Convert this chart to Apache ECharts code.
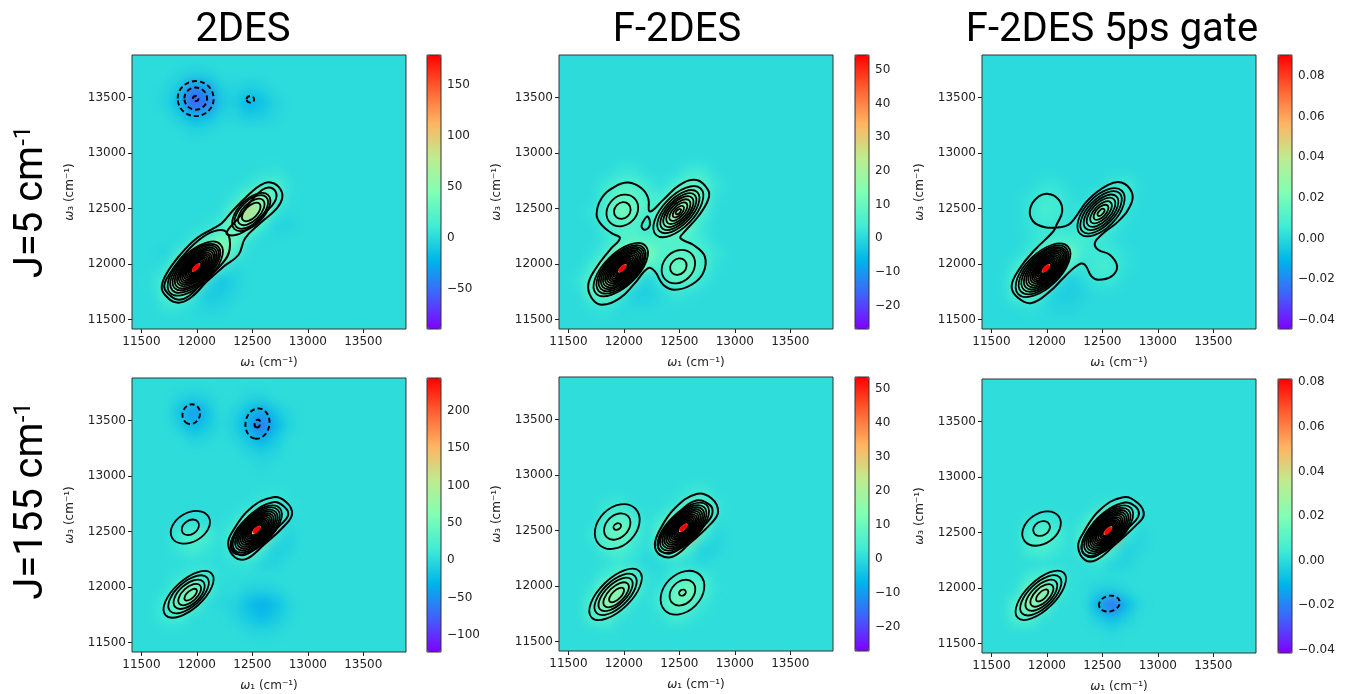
<!DOCTYPE html>
<html><head><meta charset="utf-8">
<script src="https://cdn.jsdelivr.net/npm/echarts@6/dist/echarts.min.js"></script>
<style>html,body{margin:0;padding:0;background:#fff}#c{width:1353px;height:694px}</style>
</head><body><div id="c"></div>
<script>
// ---------- shared values ----------
const axisRange = [11415, 13885];
const freqTicks = [11500, 12000, 12500, 13000, 13500];
const cellFreqX = [11477,11600,11724,11847,11971,12094,12218,12341,12465,12588,12712,12835,12959,13082,13206,13329,13453,13576,13700,13823];
const cellFreqY = [13823,13700,13576,13453,13329,13206,13082,12959,12835,12712,12588,12465,12341,12218,12094,11971,11847,11724,11600,11477];
const rainbow = ['#8000ff','#4061fa','#00b5eb','#40ecd4','#80ffb4','#bfec8e','#ffb462','#ff6131','#ff0000'];
const columnTitles = ['2DES','F-2DES','F-2DES 5ps gate'];
const rowTitles = ['J=5 cm','J=155 cm'];

// Heat cells: row index (top first) -> col, value, col, value ...
const heatR1C1 = {
1:[3,-1,4,-6,5,-5],
2:[2,-1,3,-10,4,-45,5,-30,6,-6,7,-2,8,-7,9,-5],
3:[2,-3,3,-20,4,-60,5,-50,6,-9,7,-6,8,-22,9,-14,10,-3],
4:[3,-6,4,-20,5,-15,6,-3,7,-2,8,-8,9,-6,10,-1],
5:[4,-3,5,-2],
8:[9,3,10,4],
9:[8,5,9,12,10,20,11,4],
10:[7,6,8,30,9,62,10,20,11,2],
11:[6,3,7,28,8,90,9,50,10,6,11,0],
12:[5,4,6,12,7,42,8,42,9,8,10,-4,11,-3],
13:[3,0,4,8,5,20,6,38,7,32,8,6,9,0],
14:[2,-3,3,10,4,42,5,92,6,62,7,14,8,2],
15:[2,5,3,50,4,175,5,95,6,12,7,-2],
16:[1,3,2,18,3,80,4,90,5,4,6,-14,7,-4],
17:[1,1,2,20,3,30,4,8,5,-10,6,-8,7,-2],
18:[2,5,3,5,4,0,5,-3,6,-2]};
const heatR1C2 = {
8:[4,2,5,2,9,3,10,3],
9:[3,3,4,6,5,6,6,3,8,4,9,8,10,7,11,2],
10:[3,5,4,10,5,9,6,5,7,4,8,12,9,17,10,8,11,1],
11:[2,2,3,6,4,12,5,10,6,4,7,9,8,26,9,15,10,4],
12:[3,4,4,7,5,6,6,2,7,10,8,14,9,8,10,2],
13:[3,2,4,5,5,7,6,6,7,6,8,6,9,5,10,3],
14:[2,1,3,5,4,14,5,20,6,14,7,6,8,7,9,8,10,5,11,2],
15:[2,4,3,16,4,50,5,24,6,6,7,5,8,11,9,10,10,5,11,1],
16:[1,2,2,8,3,26,4,24,5,3,6,-2,7,3,8,8,9,7,10,2],
17:[2,8,3,10,4,3,5,-2,6,-2,7,0,8,2,9,1],
18:[2,1,3,2,4,0,5,0,6,0]};
const heatR1C3 = {
9:[4,3,5,3,9,4,10,6,11,1],
10:[3,3,4,7,5,6,6,2,8,6,9,14,10,6],
11:[3,4,4,8,5,6,6,2,7,5,8,30,9,13,10,3],
12:[3,3,4,5,5,4,6,3,7,8,8,14,9,5,10,1],
13:[3,2,4,5,5,8,6,7,7,6,8,5,9,2],
14:[3,5,4,14,5,28,6,18,7,5,8,5,9,5,10,2],
15:[2,5,3,20,4,80,5,35,6,6,7,3,8,8,9,7,10,2],
16:[2,10,3,38,4,35,5,3,6,-4,7,1,8,4,9,4],
17:[2,9,3,14,4,3,5,-3,6,-3,7,-1],
18:[3,2,5,-1,6,-1]};
const heatR2C1 = {
1:[3,-5,4,-10,5,-5,8,-5,9,-6],
2:[3,-18,4,-48,5,-20,7,-5,8,-20,9,-40,10,-15,11,-2],
3:[3,-10,4,-28,5,-14,6,0,7,-8,8,-35,9,-70,10,-28,11,-5],
4:[4,-6,5,-3,7,-3,8,-15,9,-32,10,-12],
5:[8,-4,9,-8,10,-4],
6:[9,-2],
8:[9,4,10,5],
9:[8,5,9,15,10,22,11,5],
10:[3,3,4,5,5,3,7,6,8,40,9,100,10,40,11,0],
11:[3,15,4,35,5,20,6,2,7,30,8,150,9,130,10,8,11,-6],
12:[3,10,4,18,5,8,7,22,8,50,9,15,10,-10,11,-5],
13:[3,2,4,3,5,3,7,5,8,8,9,-5,10,-6],
14:[3,8,4,15,5,15,6,3],
15:[2,3,3,35,4,75,5,20,6,0,8,-6,9,-8,10,-5],
16:[2,18,3,60,4,35,5,0,6,-2,7,-6,8,-22,9,-35,10,-22,11,-4],
17:[2,14,3,15,4,0,7,-4,8,-15,9,-24,10,-14,11,-2],
18:[8,-3,9,-5,10,-3]};
const heatR2C2 = {
8:[9,2,10,3],
9:[3,2,4,3,8,2,9,8,10,9,11,2],
10:[3,5,4,9,5,5,7,3,8,16,9,36,10,12,11,1],
11:[2,2,3,8,4,11,5,5,7,9,8,40,9,30,10,4,11,-1],
12:[3,5,4,6,5,2,6,0,7,8,8,14,9,4,10,-2,11,-1],
13:[3,1,4,2,5,1,6,-1,7,0,8,1,9,0,10,-1],
14:[3,3,4,7,5,6,6,1,7,0,8,3,9,4,10,3],
15:[2,2,3,12,4,18,5,7,7,2,8,9,9,12,10,6,11,1],
16:[2,6,3,19,4,10,5,1,7,4,8,10,9,9,10,2],
17:[2,6,3,7,4,1,7,1,8,4,9,2],
18:[3,1]};
const heatR2C3 = {
9:[8,2,9,7,10,10,11,1],
10:[3,3,4,5,5,3,7,3,8,20,9,48,10,16],
11:[3,8,4,11,5,6,7,10,8,62,9,55,10,3,11,-2],
12:[3,5,4,7,5,3,7,8,8,20,9,5,10,-3,11,-1],
13:[4,1,8,2,9,-2,10,-2],
14:[3,4,4,8,5,8,6,1],
15:[2,1,3,18,4,30,5,8,8,-3,9,-4,10,-1],
16:[2,9,3,28,4,14,8,-12,9,-26,10,-10,11,-1],
17:[2,7,3,8,8,-3,9,-8,10,-3],
18:[9,-1]};

// Contour ellipses: centre x, centre y, semi-axis along, semi-axis across, angle
const ringsR1C1 = [[11985,11960,315,148,44],[11985,11962,285,135,44],[11988,11965,262,123,44],[11990,11966,240,112,44],[11992,11968,218,101,44],[11993,11969,198,91,44],[11993,11969,178,81,44],[11993,11970,160,72,44],[11993,11970,142,64,44],[11993,11970,125,56,44],[11993,11970,108,48,44],[11993,11970,92,41,45],[11993,11970,76,34,45],[11993,11970,60,27,45],
[12490,12470,216,112,45],[12490,12470,190,98,45],[12490,12470,150,78,45],[12490,12470,105,55,45]];
const ringsR1C2 = [[11972,11950,310,148,44],[11975,11952,280,136,44],[11978,11955,258,125,44],[11980,11957,236,114,44],[11982,11958,215,103,44],[11984,11960,195,92,44],[11985,11961,175,82,44],[11986,11962,157,73,44],[11986,11962,140,64,44],[11986,11962,123,56,44],[11986,11962,106,48,44],[11986,11962,90,40,45],[11986,11962,75,33,45],[11986,11962,60,27,45],
[11986,12483,155,130,45],[11986,12483,80,70,45],[12491,11977,165,135,45],[12491,11977,80,68,45],
[12491,12473,290,140,46],[12491,12473,245,118,46],[12491,12473,210,100,46],[12491,12473,175,85,46],[12491,12473,140,68,46],[12491,12473,105,50,46],[12491,12473,65,32,46],[12491,12473,30,15,46]];
const ringsR1C3 = [[11965,11945,310,152,44],[11970,11948,282,138,44],[11975,11952,258,126,44],[11980,11955,236,114,44],[11984,11958,215,103,44],[11987,11960,195,92,44],[11990,11961,175,82,44],[11991,11962,157,73,44],[11992,11962,140,64,44],[11992,11962,123,56,44],[11992,11962,106,48,44],[11992,11962,90,40,45],[11992,11962,75,33,45],[11992,11962,60,27,45],
[12488,12467,270,140,46],[12488,12467,240,118,46],[12488,12467,200,100,46],[12488,12467,165,82,46],[12488,12467,125,62,46],[12488,12467,85,43,46],[12488,12467,40,20,46]];
const ringsR2C1 = [[11941,12539,190,130,30],[11941,12539,85,62,35],
[11925,11935,280,130,42],[11925,11935,225,110,42],[11930,11935,170,90,42],[11935,11933,125,65,42],[11944,11932,70,33,42],
[12535,12515,290,135,43],[12535,12515,265,125,43],[12535,12515,240,113,43],[12535,12515,218,102,43],[12535,12515,197,92,43],[12535,12515,177,82,43],[12535,12515,158,73,43],[12535,12515,140,65,43],[12535,12515,123,57,43],[12535,12515,106,49,43],[12535,12515,90,41,43],[12535,12515,75,34,43],[12535,12515,60,28,43]];
const ringsR2C2 = [[11940,12537,230,170,45],[11940,12537,135,100,45],[11940,12537,36,27,30],
[12528,11941,225,165,45],[12528,11941,130,100,45],[12528,11941,32,26,30],
[11925,11925,300,140,44],[11925,11925,240,115,44],[11925,11925,195,92,44],[11930,11922,145,70,44],[11934,11920,85,40,44],
[12535,12525,295,135,44],[12535,12525,265,124,44],[12535,12525,240,113,44],[12535,12525,218,102,44],[12535,12525,197,92,44],[12535,12525,177,82,44],[12535,12525,158,73,44],[12535,12525,140,65,44],[12535,12525,123,57,44],[12535,12525,106,49,44],[12535,12525,90,41,44],[12535,12525,75,34,44],[12535,12525,60,28,44]];
const ringsR2C3 = [[11952,12537,190,135,35],[11952,12537,80,62,30],
[11945,11935,290,130,44],[11945,11935,235,110,44],[11950,11935,180,88,44],[11955,11934,130,65,44],[11958,11934,70,33,44],
[12545,12518,295,135,44],[12545,12518,265,124,44],[12545,12518,240,113,44],[12545,12518,218,102,44],[12545,12518,197,92,44],[12545,12518,177,82,44],[12545,12518,158,73,44],[12545,12518,140,65,44],[12545,12518,123,57,44],[12547,12518,106,49,44],[12550,12519,90,41,44],[12550,12519,75,34,44],[12550,12519,60,28,44]];

// Negative (dashed) contours
const dashR1C1 = [[11989,13492,162,158,0],[11989,13492,102,100,0],[11989,13492,25,23,0],[12482,13486,34,30,0]];
const dashR2C1 = [[11949,13559,90,78,70],[12546,13474,137,108,80],[12546,13474,36,25,75]];
const dashR2C3 = [[12563,11860,95,70,15]];

// Innermost filled peak
const coreR1C1 = [[11992,11970,42,19,46]];
const coreR1C2 = [[11986,11962,42,20,46]];
const coreR1C3 = [[11992,11962,42,20,46]];
const coreR2C1 = [[12539,12518,42,20,44]];
const coreR2C2 = [[12536,12527,42,20,44]];
const coreR2C3 = [[12552,12519,42,20,44]];

// Free-form contours: x, y, x, y ... (closed)
const pathsR1C1 = [
[11683,11797,11728,11917,11848,12082,11998,12233,12149,12323,12224,12368,12329,12488,12480,12638,12570,12710,12650,12738,12735,12699,12771,12608,12720,12503,12570,12368,12435,12233,12374,12082,12239,11977,12089,11842,11938,11692,11818,11653,11713,11722],
[11705,11800,11746,11899,11866,12064,12010,12210,12150,12295,12265,12290,12295,12130,12220,11995,12072,11858,11925,11710,11825,11680,11735,11740],
[12267,12279,12387,12430,12490,12570,12590,12670,12660,12690,12715,12640,12700,12560,12620,12470,12477,12330,12357,12264]];
const pathsR1C2 = [
[11679,11814,11739,11949,11874,12129,11964,12234,11889,12279,11799,12354,11754,12444,11799,12594,11919,12699,12039,12735,12159,12684,12219,12594,12234,12474,12354,12579,12504,12714,12654,12759,12759,12669,12759,12579,12669,12429,12549,12294,12510,12234,12624,12174,12729,12069,12714,11919,12609,11814,12459,11769,12354,11814,12279,11934,12219,11964,12099,11829,11964,11694,11799,11634,11709,11694],
[12213,12429,12234,12354,12189,12309,12159,12339,12174,12384]];
const pathsR1C3 = [
[11682,11799,11757,11964,11892,12129,12057,12294,12087,12354,12138,12474,12108,12579,12012,12633,11907,12594,11847,12489,11877,12384,11982,12333,12117,12333,12192,12354,12252,12414,12372,12579,12552,12714,12672,12735,12762,12654,12762,12549,12657,12399,12492,12264,12432,12189,12462,12129,12567,12084,12633,11979,12582,11889,12462,11859,12402,11889,12342,11994,12282,11994,12162,11889,12027,11754,11862,11649,11742,11694]];
const pathsR2C1 = [
[12282,12390,12327,12510,12477,12705,12687,12810,12807,12765,12858,12660,12792,12555,12597,12375,12447,12255,12342,12270],
[12306,12390,12357,12495,12492,12660,12687,12765,12792,12720,12822,12645,12747,12555,12582,12390,12432,12291,12351,12309]];
const pathsR2C2 = [
[12279,12372,12324,12507,12459,12702,12654,12831,12789,12792,12849,12672,12789,12567,12594,12387,12444,12267,12324,12282],
[12309,12372,12354,12492,12504,12672,12654,12771,12774,12732,12798,12657,12744,12567,12579,12402,12429,12297,12339,12312]];
const pathsR2C3 = [
[12282,12375,12327,12495,12477,12705,12687,12819,12822,12765,12873,12660,12807,12570,12612,12390,12447,12255,12342,12255],
[12312,12375,12357,12495,12507,12675,12702,12771,12798,12735,12828,12660,12762,12570,12582,12399,12432,12285,12342,12300]];

// Colour scale ranges and ticks
const scaleR1C1 = [-89,179],  ticksR1C1 = [-50,0,50,100,150];
const scaleR1C2 = [-27,54.5], ticksR1C2 = [-20,-10,0,10,20,30,40,50];
const scaleR1C3 = [-0.0444,0.0903], ticksR1C3 = [-0.04,-0.02,0,0.02,0.04,0.06,0.08];
const scaleR2C1 = [-122.5,243.7], ticksR2C1 = [-100,-50,0,50,100,150,200];
const scaleR2C2 = [-27,53.5], ticksR2C2 = [-20,-10,0,10,20,30,40,50];
const scaleR2C3 = [-0.0414,0.0815], ticksR2C3 = [-0.04,-0.02,0,0.02,0.04,0.06,0.08];

// ---------- panel table ----------
const panels = [
 {x:132,y:55, bar:427, heat:heatR1C1,bg:1,  unit:1,    scale:scaleR1C1,ticks:ticksR1C1,rings:ringsR1C1,dash:dashR1C1,core:coreR1C1,paths:pathsR1C1,dec:0},
 {x:559,y:55, bar:855, heat:heatR1C2,bg:0.5,unit:1,    scale:scaleR1C2,ticks:ticksR1C2,rings:ringsR1C2,dash:[],core:coreR1C2,paths:pathsR1C2,dec:0},
 {x:982,y:55, bar:1278,heat:heatR1C3,bg:0.5,unit:0.001,scale:scaleR1C3,ticks:ticksR1C3,rings:ringsR1C3,dash:[],core:coreR1C3,paths:pathsR1C3,dec:2},
 {x:132,y:378,bar:427, heat:heatR2C1,bg:2,  unit:1,    scale:scaleR2C1,ticks:ticksR2C1,rings:ringsR2C1,dash:dashR2C1,core:coreR2C1,paths:pathsR2C1,dec:0},
 {x:559,y:377,bar:855, heat:heatR2C2,bg:0.5,unit:1,    scale:scaleR2C2,ticks:ticksR2C2,rings:ringsR2C2,dash:[],core:coreR2C2,paths:pathsR2C2,dec:0},
 {x:982,y:379,bar:1278,heat:heatR2C3,bg:0.5,unit:0.001,scale:scaleR2C3,ticks:ticksR2C3,rings:ringsR2C3,dash:dashR2C3,core:coreR2C3,paths:pathsR2C3,dec:2}
];
const S = 274, INK = '#222', FRAME = '#333', TICKFONT = 'DejaVu Sans';

function ellipseRenderer(stroke, fill, dash, lw){
  return function(params, api){
    const c = api.coord([api.value(0), api.value(1)]);
    const s = api.size([api.value(2), api.value(3)]);
    return {type:'ellipse', x:c[0], y:c[1], rotation:api.value(4)*Math.PI/180, silent:true,
      shape:{cx:0,cy:0,rx:s[0],ry:s[1]},
      style:{fill:fill, stroke:stroke, lineWidth:lw, lineDash:dash}};
  };
}
function pathRenderer(flat){
  return function(params, api){
    const pts=[];
    for(let i=0;i<flat.length;i+=2){pts.push(api.coord([flat[i],flat[i+1]]));}
    return {type:'polygon',silent:true,shape:{points:pts,smooth:0.42},style:{fill:'none',stroke:'#000',lineWidth:2}};
  };
}
function plainFreq(v){return String(v);}
const grid=[], xAxis=[], yAxis=[], series=[], visualMap=[], elements=[];
const omegaRich = {i:{fontStyle:'italic',fontFamily:TICKFONT,fontSize:12,color:INK}};
panels.forEach(function(p,k){
  // heat layer (own category axes)
  const heatIdx = grid.length;
  grid.push({left:p.x,top:p.y,width:S,height:S,show:false});
  xAxis.push({gridIndex:heatIdx,type:'category',data:cellFreqX,show:false});
  yAxis.push({gridIndex:heatIdx,type:'category',data:cellFreqY,inverse:true,show:false});
  const cells=[];
  cellFreqY.forEach(function(_,r){cellFreqX.forEach(function(_,c){cells.push([c,r,p.bg*p.unit]);});});
  Object.keys(p.heat).forEach(function(r){
    const a=p.heat[r];
    for(let i=0;i<a.length;i+=2){cells[(+r)*cellFreqX.length+a[i]][2]=a[i+1]*p.unit;}
  });
  const heatSeries = series.length;
  series.push({type:'heatmap',xAxisIndex:heatIdx,yAxisIndex:heatIdx,data:cells,zlevel:-1,z:2,silent:true,
    emphasis:{disabled:true},progressive:0,animation:false});
  visualMap.push({type:'continuous',seriesIndex:heatSeries,min:p.scale[0],max:p.scale[1],
    inRange:{color:rainbow},left:p.bar,top:p.y,itemWidth:14,itemHeight:S,padding:0,
    calculable:false,hoverLink:false,text:null,orient:'vertical',z:4});
  // frame with value axes
  const fi = grid.length;
  grid.push({left:p.x,top:p.y,width:S,height:S,show:true,borderColor:FRAME,borderWidth:1,backgroundColor:'transparent',z:5});
  xAxis.push({gridIndex:fi,type:'value',min:axisRange[0],max:axisRange[1],position:'bottom',
    name:'{i|ω}₁ (cm⁻¹)',nameLocation:'middle',nameGap:28,
    nameTextStyle:{fontFamily:TICKFONT,fontSize:12,color:INK,rich:omegaRich},
    splitLine:{show:false},axisLine:{show:false},
    axisTick:{show:true,length:4,lineStyle:{color:INK},customValues:freqTicks},
    axisLabel:{fontFamily:TICKFONT,fontSize:12,color:INK,margin:7,customValues:freqTicks,hideOverlap:false,formatter:plainFreq}});
  yAxis.push({gridIndex:fi,type:'value',min:axisRange[0],max:axisRange[1],position:'left',
    name:'{i|ω}₃ (cm⁻¹)',nameLocation:'middle',nameGap:56,
    nameTextStyle:{fontFamily:TICKFONT,fontSize:12,color:INK,rich:omegaRich},
    splitLine:{show:false},axisLine:{show:false},
    axisTick:{show:true,length:4,lineStyle:{color:INK},customValues:freqTicks},
    axisLabel:{fontFamily:TICKFONT,fontSize:12,color:INK,margin:6,customValues:freqTicks,hideOverlap:false,formatter:plainFreq}});
  // contours
  p.paths.forEach(function(flat){
    series.push({type:'custom',xAxisIndex:fi,yAxisIndex:fi,data:[[flat[0],flat[1]]],renderItem:pathRenderer(flat),encode:{x:0,y:1},z:6,silent:true,animation:false,clip:true});
  });
  if(p.rings.length) series.push({type:'custom',xAxisIndex:fi,yAxisIndex:fi,data:p.rings,renderItem:ellipseRenderer('#000','none',null,1.8),encode:{x:0,y:1},z:6,silent:true,animation:false,clip:true});
  if(p.dash.length) series.push({type:'custom',xAxisIndex:fi,yAxisIndex:fi,data:p.dash,renderItem:ellipseRenderer('#000','none',[5,3],1.9),encode:{x:0,y:1},z:6,silent:true,animation:false,clip:true});
  series.push({type:'custom',xAxisIndex:fi,yAxisIndex:fi,data:p.core,renderItem:ellipseRenderer('#ff0000','#ff0000',null,0.5),encode:{x:0,y:1},z:7,silent:true,animation:false,clip:true});
  // colour bar axis
  const bi = grid.length;
  grid.push({left:p.bar,top:p.y,width:14,height:S,show:true,borderColor:FRAME,borderWidth:1,backgroundColor:'transparent',z:5});
  xAxis.push({gridIndex:bi,type:'value',min:0,max:1,show:false});
  yAxis.push({gridIndex:bi,type:'value',min:p.scale[0],max:p.scale[1],position:'right',
    splitLine:{show:false},axisLine:{show:false},
    axisTick:{show:true,length:4,lineStyle:{color:INK},customValues:p.ticks},
    axisLabel:{fontFamily:TICKFONT,fontSize:12,color:INK,margin:6,customValues:p.ticks,hideOverlap:false,
      formatter:function(v){return v.toFixed(p.dec).replace('-','−');}}});
  // soft underlay below the heat layer, white margin above it
  const m=14,t=34;
  elements.push({type:'rect',silent:true,zlevel:-1,z:-1,shape:{x:p.x-m,y:p.y-m,width:S+2*m,height:S+2*m},style:{fill:'#2eddd8'}});
  [[p.x-t,p.y-t,S+2*t,t],[p.x-t,p.y+S,S+2*t,t],[p.x-t,p.y,t,S],[p.x+S,p.y,t,S]].forEach(function(r){
    elements.push({type:'rect',silent:true,zlevel:0,z:-10,shape:{x:r[0],y:r[1],width:r[2],height:r[3]},style:{fill:'#fff'}});
  });
});
const sideRich = {a:{fontFamily:'Roboto',fontSize:40,color:'#000'},b:{fontFamily:'Roboto',fontSize:24,color:'#000',verticalAlign:'top'}};
[[32,202],[32,501]].forEach(function(pos,i){
  elements.push({type:'text',x:pos[0],y:pos[1],rotation:Math.PI/2,silent:true,z:10,
    style:{text:'{a|'+rowTitles[i]+'}{b|-1}',rich:sideRich,align:'center',verticalAlign:'middle'}});
});
const titleX=[243,677,1112];
const chart = echarts.init(document.getElementById('c'),null,{renderer:'canvas'});
chart.setOption({
  animation:false,backgroundColor:'transparent',
  title:columnTitles.map(function(t,i){return {text:t,left:titleX[i],top:11,textAlign:'center',padding:0,
    textStyle:{fontFamily:'Roboto',fontSize:40,fontWeight:'normal',color:'#000'}};}),
  grid:grid,xAxis:xAxis,yAxis:yAxis,visualMap:visualMap,series:series,graphic:{elements:elements}
});
const layer=document.querySelector('canvas[data-zr-dom-id="zr_-1"]');
if(layer){layer.style.filter='blur(6px)';}
</script></body></html>
